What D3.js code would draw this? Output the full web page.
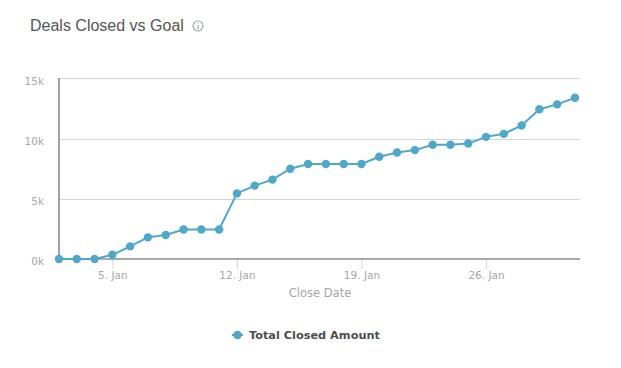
<!DOCTYPE html>
<html>
<head>
<meta charset="utf-8">
<script src="https://cdn.jsdelivr.net/npm/d3@7"></script>
<style>
  body { margin: 0; background: #fff; }
  text { font-family: "DejaVu Sans", sans-serif; }
</style>
</head>
<body>
<div id="container"></div>
<script>
let w = 621;
let h = 368;

// closing days in January, one point per day
let days = [2, 3, 4, 5, 6, 7, 8, 9, 10, 11, 12, 13, 14, 15, 16, 17, 18, 19, 20, 21, 22, 23, 24, 25, 26, 27, 28, 29, 30, 31];
let closedAmount = [0, 0, 0, 350, 1050, 1800, 2000, 2450, 2450, 2450, 5450, 6100, 6600, 7500, 7900, 7900, 7900, 7900, 8500, 8850, 9050, 9500, 9500, 9600, 10150, 10400, 11100, 12450, 12850, 13400];
let yTicks = [0, 5000, 10000, 15000];
let xTicks = [5, 12, 19, 26];

let titleText = "Deals Closed vs Goal";
let xTitle = "Close Date";
let seriesName = "Total Closed Amount";

let blue = "#4fa8c9";

let viz = d3.select("#container")
  .append("svg")
    .attr("width", w)
    .attr("height", h)
    .style("display", "block")
;

function jan(d) {
  return new Date(2015, 0, d);
}

let xScale = d3.scaleTime().domain([jan(2), jan(31)]).range([59, 575]);
let yScale = d3.scaleLinear().domain([0, 15000]).range([259, 78.5]);

// title and info icon
viz.append("text")
    .attr("x", 30)
    .attr("y", 31)
    .attr("fill", "#555555")
    .style("font-family", "'Liberation Sans', sans-serif")
    .style("font-size", "16px")
    .text(titleText)
;
viz.append("circle")
    .attr("cx", 198)
    .attr("cy", 26)
    .attr("r", 5)
    .attr("fill", "none")
    .attr("stroke", "#a3aaad")
    .attr("stroke-width", 1.2)
;
viz.append("text")
    .attr("x", 198)
    .attr("y", 29)
    .attr("text-anchor", "middle")
    .attr("fill", "#7e8587")
    .style("font-size", "9px")
    .style("font-family", "'Liberation Serif', serif")
    .text("i")
;

// y axis with the gridlines
let yAxis = d3.axisLeft(yScale)
    .tickValues(yTicks)
    .tickSize(0)
    .tickPadding(15)
    .tickFormat(function(d) { return (d / 1000) + "k"; })
;
let yAxisGroup = viz.append("g").attr("class", "yaxis").attr("transform", "translate(59,2.5)").call(yAxis);
yAxisGroup.select(".domain").remove();
yAxisGroup.selectAll("text")
    .attr("fill", "#a6a6a6")
    .style("font-size", "10.5px")
;

viz.append("g").attr("class", "grid").selectAll("line").data(yTicks.slice(1)).enter()
  .append("line")
    .attr("x1", 59)
    .attr("x2", 580)
    .attr("y1", function(d) { return Math.floor(yScale(d) + 0.4) + 0.5; })
    .attr("y2", function(d) { return Math.floor(yScale(d) + 0.4) + 0.5; })
    .attr("stroke", "#d6d6d6")
    .attr("stroke-width", 1)
;

// x axis
let xAxis = d3.axisBottom(xScale)
    .tickValues(xTicks.map(jan))
    .tickSize(10)
    .tickPadding(3)
    .tickFormat(function(d) { return d.getDate() + ". Jan"; })
;
let xAxisGroup = viz.append("g").attr("class", "xaxis").attr("transform", "translate(0,259)").call(xAxis);
xAxisGroup.select(".domain").remove();
xAxisGroup.selectAll("line").attr("stroke", "#d6d6d6");
xAxisGroup.selectAll("text")
    .attr("fill", "#a6a6a6")
    .style("font-size", "10.5px")
;

viz.append("line")
    .attr("x1", 59)
    .attr("x2", 59)
    .attr("y1", 78)
    .attr("y2", 260)
    .attr("stroke", "#8c8c8c")
    .attr("stroke-width", 1.6)
;
viz.append("line")
    .attr("x1", 59)
    .attr("x2", 580)
    .attr("y1", 259)
    .attr("y2", 259)
    .attr("stroke", "#8c8c8c")
    .attr("stroke-width", 1.6)
;

viz.append("text")
    .attr("x", 320)
    .attr("y", 297)
    .attr("text-anchor", "middle")
    .attr("fill", "#a6a6a6")
    .style("font-size", "11.5px")
    .text(xTitle)
;

// the series
let line = d3.line()
    .x(function(d, i) { return xScale(jan(days[i])); })
    .y(function(d) { return yScale(d); })
;
viz.append("path")
    .datum(closedAmount)
    .attr("d", line)
    .attr("fill", "none")
    .attr("stroke", blue)
    .attr("stroke-width", 2)
;
viz.append("g").attr("class", "points").selectAll("circle").data(closedAmount).enter()
  .append("circle")
    .attr("cx", function(d, i) { return xScale(jan(days[i])); })
    .attr("cy", function(d) { return yScale(d); })
    .attr("r", 4.2)
    .attr("fill", blue)
;

// legend
viz.append("line")
    .attr("x1", 232)
    .attr("x2", 243)
    .attr("y1", 335)
    .attr("y2", 335)
    .attr("stroke", blue)
    .attr("stroke-width", 2)
;
viz.append("circle")
    .attr("cx", 237.5)
    .attr("cy", 335)
    .attr("r", 4.2)
    .attr("fill", blue)
;
viz.append("text")
    .attr("x", 249)
    .attr("y", 339)
    .attr("fill", "#4d4d4d")
    .style("font-size", "11.3px")
    .style("font-weight", "bold")
    .text(seriesName)
;
</script>
</body>
</html>
